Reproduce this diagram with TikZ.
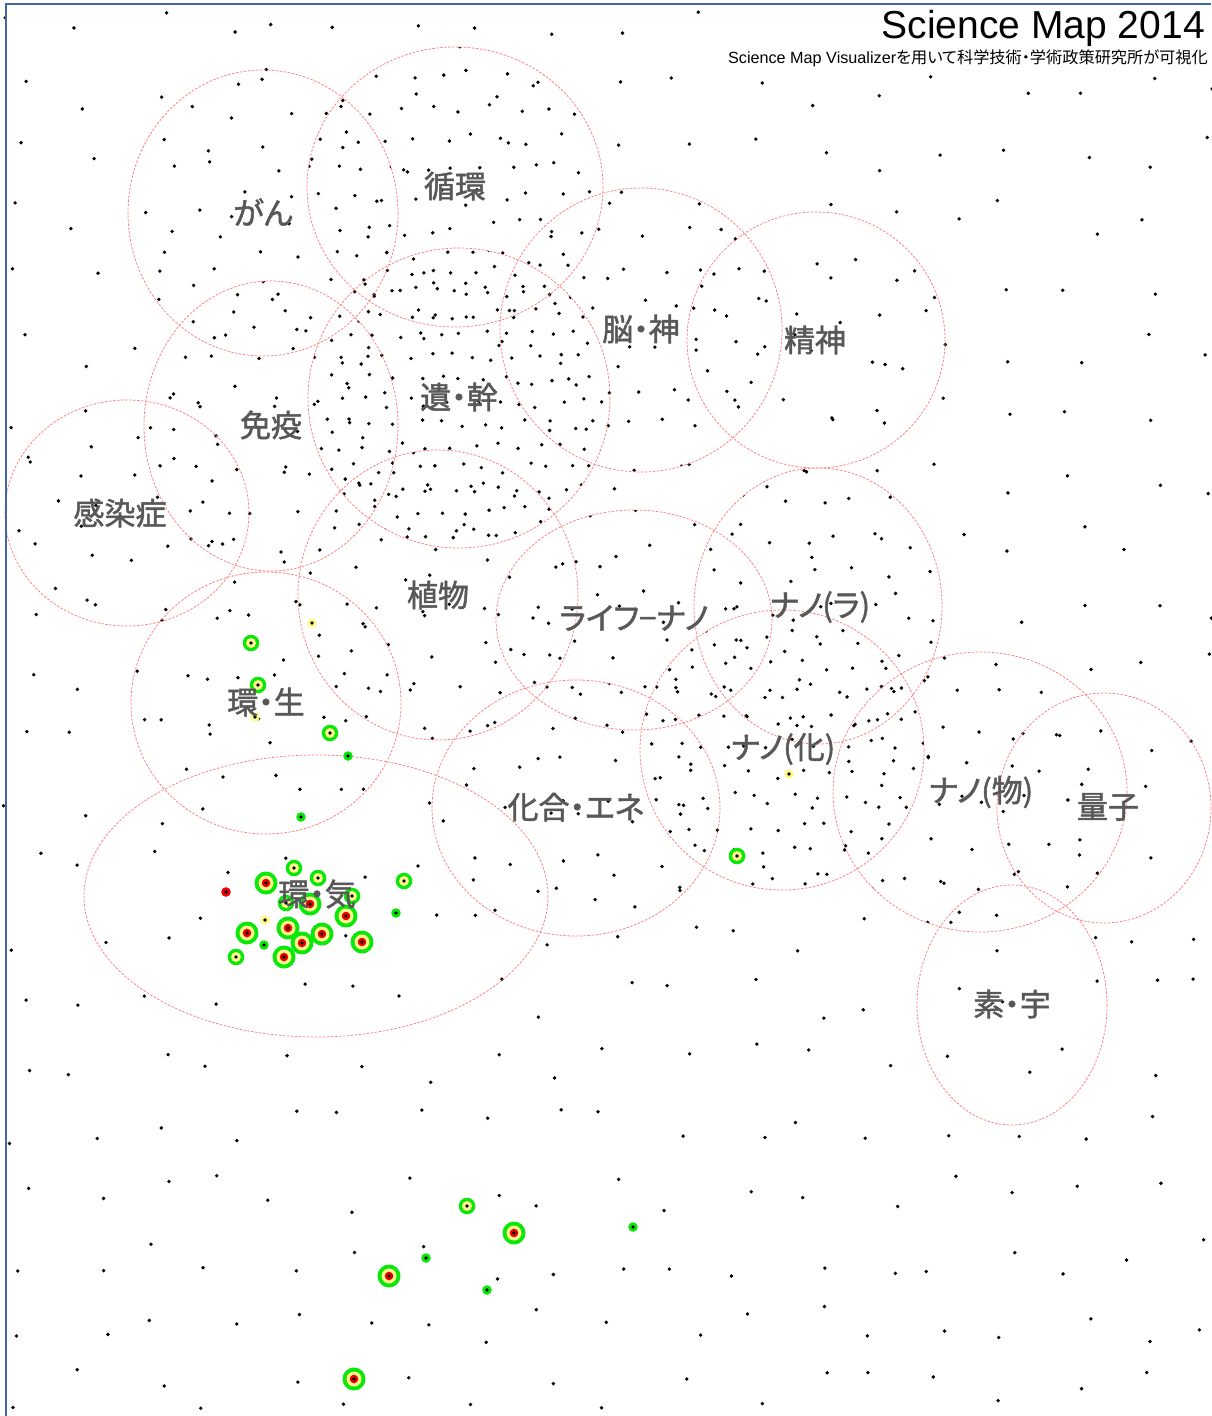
\documentclass[tikz,border=0pt]{standalone}
\usepackage{fontspec}
\setmainfont{Liberation Sans}
\newfontfamily\jpfont[RawFeature=+palt]{Noto Sans CJK JP}
\newfontfamily\jplabel[RawFeature=+palt, FakeBold=1.6]{Noto Sans CJK JP}
\definecolor{zonepink}{RGB}{255,125,125}
\definecolor{labelgray}{RGB}{88,88,88}
\definecolor{frameblue}{RGB}{66,102,162}
\definecolor{hitgreen}{RGB}{10,232,10}
\definecolor{hityellow}{RGB}{255,248,140}
\definecolor{hitred}{RGB}{238,0,0}
% jittered grid of paper dots inside one field
\newcommand\dotfield[5]{%
  \begin{scope}
    \clip (#1,#2) ellipse [x radius=#3, y radius=#4];
    \pgfmathtruncatemacro\nx{2*#3/#5}
    \pgfmathtruncatemacro\ny{2*#4/#5}
    \foreach \i in {0,...,\nx}{\foreach \j in {0,...,\ny}{
      \fill ({#1-#3+\i*#5+(\j-2*int(\j/2))*#5/2+rand*#5*0.25},{#2-#4+\j*#5+rand*#5*0.25}) circle (1.9);
    }}
  \end{scope}}
\newcommand\hitbig[1]{\fill[hitgreen] #1 circle (11.5); \fill[hityellow] #1 circle (7.5);
  \fill[hitred] #1 circle (4.3); \fill #1 circle (1.9);}
\newcommand\hitmid[1]{\fill[hitgreen] #1 circle (8.3); \fill[hityellow] #1 circle (5);
  \fill #1 circle (1.9);}
\newcommand\hitsmall[2]{\fill[#2] #1 circle (4.8); \fill #1 circle (1.9);}
\begin{document}
\begin{tikzpicture}[x=1pt, y=-1pt,
    zone/.style={draw=zonepink, line width=0.75pt, dash pattern=on 2.5pt off 1.5pt},
    fieldlabel/.style={text=labelgray, font=\jplabel\fontsize{31}{31}\selectfont, inner sep=0pt}]
  \useasboundingbox (0,0) rectangle (1211,1416);
  \pgfmathsetseed{2014}
  % background dots
  \foreach \i in {0,...,18}{\foreach \j in {0,...,21}{
    \pgfmathsetmacro\px{22+\i*66+rand*20}
    \pgfmathsetmacro\py{24+\j*65+rand*20}
    \pgfmathtruncatemacro\hide{and(\px>715,\py<72)}
    \ifnum\hide=0 \fill (\px,\py) circle (1.9); \fi
  }}
  % denser dots in the fields
  \foreach \cx/\cy/\rx/\ry/\st in {455/187/148/140/30, 459/398/151/150/22,
      263/213/135/143/44, 271/426/127/145/38, 127/513/122/113/50,
      641/330/141/142/40, 816/340/129/128/50, 438/595/140/145/40,
      634/620/138/110/46, 818/606/124/138/36, 782/750/142/140/27,
      980/792/147/140/38, 576/808/144/128/44, 266/703/135/131/52}
    {\dotfield{\cx}{\cy}{\rx}{\ry}{\st}}
  % research fronts
  \foreach \cx/\cy/\rx/\ry in {263/213/135/143, 455/187/148/140, 641/330/141/142,
      816/340/129/128, 459/398/151/150, 271/426/127/145, 127/513/122/113,
      438/595/140/145, 634/620/138/110, 818/606/124/138, 266/703/135/131,
      316/896/232/141, 576/808/144/128, 782/750/142/140, 980/792/147/140,
      1104/808/107/115, 1012/1005/95/120}
    \draw[zone] (\cx,\cy) ellipse [x radius=\rx, y radius=\ry];
  % hit markers
  \foreach \p in {(266,883),(310,904),(346,916),(288,928),(247,933),(322,934),
      (302,943),(362,942),(284,957),(514,1233),(389,1276),(354,1379)}
    {\hitbig{\p}}
  \foreach \p in {(251,643),(258,685),(330,733),(294,868),(318,878),(286,903),
      (352,896),(404,881),(236,957),(467,1206),(737,856)}
    {\hitmid{\p}}
  \foreach \p in {(348,756),(301,817),(396,913),(264,945),(426,1258),(633,1227),(487,1290)}
    {\hitsmall{\p}{hitgreen}}
  \foreach \p in {(312,623),(255,717),(265,920),(789,774)}
    {\hitsmall{\p}{hityellow}}
  \hitsmall{(226,892)}{hitred}
  % field labels
  \begin{scope}[every node/.style=fieldlabel]
    \path
      (263,212) node (gan) {がん}
      (455,186) node (junkan) {循環}
      (641,329) node (nou) {脳・神}
      (815,340) node (seishin) {精神}
      (459,397) node (iden) {遺・幹}
      (271,425) node (meneki) {免疫}
      (120,513) node (kansen) {感染症}
      (438,595) node (shokubutsu) {植物}
      (634,618) node (lifenano) {ライフ−ナノ}
      (820,607) node (nanora) {ナノ(ラ)}
      (266,702) node (kansei) {環・生}
      (317,894) node (kanki) {環・気}
      (576,807) node (kagou) {化合・エネ}
      (783,749) node (nanoka) {ナノ(化)}
      (981,792) node (nanobutsu) {ナノ(物)}
      (1108,807) node (ryoushi) {量子}
      (1012,1004) node (sou) {素・宇};
  \end{scope}
  % title
  \node[anchor=base east, inner sep=0pt, font=\fontsize{39}{39}\selectfont] (title)
    at (1205,38) {Science Map 2014};
  \node[anchor=base east, inner sep=0pt, font=\fontsize{16.2}{16.2}\selectfont] (credit)
    at (1208,63) {Science Map Visualizer{\jpfont を用いて科学技術・学術政策研究所が可視化}};
  \draw[frameblue, line width=2pt] (5.5,1416) -- (5.5,3.5) -- (1211,3.5);
\end{tikzpicture}
\end{document}
